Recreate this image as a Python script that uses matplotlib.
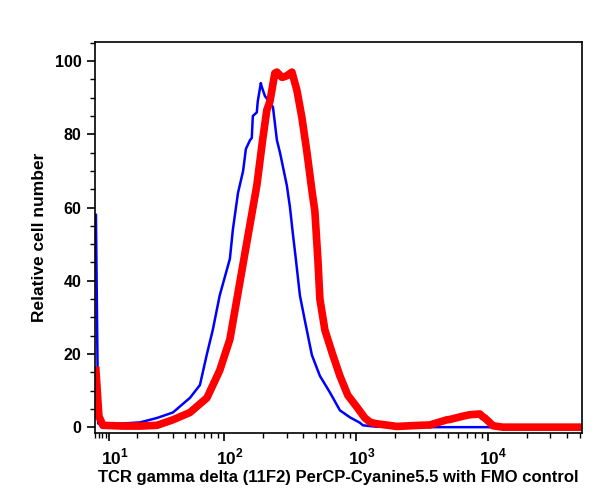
import matplotlib
matplotlib.use('Agg')
import matplotlib.pyplot as plt
from matplotlib.transforms import ScaledTranslation

plt.rcParams['font.family'] = ['Liberation Sans', 'DejaVu Sans']
plt.rcParams['font.weight'] = 'bold'
plt.rcParams['mathtext.fontset'] = 'custom'
plt.rcParams['mathtext.rm'] = 'Liberation Sans:bold'
plt.rcParams['mathtext.bf'] = 'Liberation Sans:bold'

# FMO control (blue)
blue_x = [6.2, 6.8, 8.1, 10.2, 14.4, 21.1, 29.6, 40, 54.6, 65.3, 74, 82, 92.8, 111, 117,
          128, 140, 147, 158, 163, 166, 178, 181, 191, 194, 205, 224, 236, 253, 267, 301,
          318, 334, 353, 378, 413, 466, 536, 638, 760, 904, 1078, 1136, 1450, 3000, 52000]
blue_y = [58, 1.0, 0.5, 0.8, 1.0, 1.3, 2.5, 4, 8, 11.5, 20, 26.5, 36, 46, 54,
          64, 70, 76, 78.4, 79, 85, 86, 89, 94, 93, 90.5, 88.5, 87.5, 78.4, 75, 66,
          60, 53, 45.6, 36, 29, 19.7, 14, 9.5, 4.6, 2.7, 1.2, 0.5, 0.1, 0, 0]

# TCR gamma delta stained (red)
red_x = [6.2, 7.0, 8.1, 14.4, 21.1, 29.6, 40, 54.6, 74, 92.8, 111, 147, 178, 198, 212,
         224, 244, 253, 276, 281, 301, 329, 359, 391, 428, 466, 491, 518, 536, 585, 672,
         760, 801, 873, 1022, 1176, 1284, 1400, 2055, 3066, 3654, 4914, 5180, 6510, 7350,
         8022, 8750, 9226, 9548, 10416, 10990, 12404, 13076, 52000]
red_y = [15.5, 3, 0.5, 0.3, 0.3, 0.5, 2, 4, 8, 15.5, 24, 49, 66, 79, 86.6,
         89, 96.7, 97, 95.6, 95.6, 96, 97, 92, 84.7, 75, 64.7, 59, 45.6, 35, 26.5, 19.7,
         14, 12, 8.7, 5.5, 2.5, 1.4, 1, 0.2, 0.5, 0.6, 2, 2.1, 3, 3.4,
         3.5, 3.6, 2.8, 2.5, 1.2, 0.4, 0.1, 0, 0]

x_major = [10, 100, 1000, 10000]
x_labels = ['$10^{1}$', '$10^{2}$', '$10^{3}$', '$10^{4}$']
x_minor = [m * d for d in [1, 10, 100, 1000, 10000] for m in range(2, 10)]
y_major = [0, 20, 40, 60, 80, 100]
y_minor = [5, 10, 15, 25, 30, 35, 45, 50, 55, 65, 70, 75, 85, 90, 95, 105]

fig = plt.figure(figsize=(6, 4.98), dpi=100)
ax = fig.add_axes([0.158, 0.1305, 0.812, 0.785])

ax.plot(blue_x, blue_y, color='#0000ff', lw=1.8)
ax.plot(red_x, red_y, color='#ff0000', lw=5.5, solid_joinstyle='round')

ax.set_xscale('asinh', linear_width=14)
ax.set_xlim(5.9, 52000)
ax.set_ylim(-1.6, 105.2)

ax.set_xticks(x_major)
ax.set_xticklabels(x_labels)
ax.set_xticks([v for v in x_minor if 5.9 < v < 52000], minor=True)
ax.set_yticks(y_major)
ax.set_yticks(y_minor, minor=True)

ax.tick_params(which='major', length=6, width=1.2, labelsize=11.5)
ax.tick_params(axis='x', which='major', labelsize=12.5, pad=4)
ax.tick_params(which='minor', length=3.5, width=1)
for s in ax.spines.values():
    s.set_linewidth(1.2)

# base of the power label sits on the tick, exponent hangs to the right
shift = ScaledTranslation(6 / 100, 0, fig.dpi_scale_trans)
for lab in ax.get_xticklabels():
    lab.set_transform(lab.get_transform() + shift)

ax.set_xlabel('TCR gamma delta (11F2) PerCP-Cyanine5.5 with FMO control',
              fontsize=12, fontweight='bold', labelpad=2)
ax.set_ylabel('Relative cell number', fontsize=12.5, fontweight='bold', labelpad=6)

fig.savefig('out.png', dpi=100)
